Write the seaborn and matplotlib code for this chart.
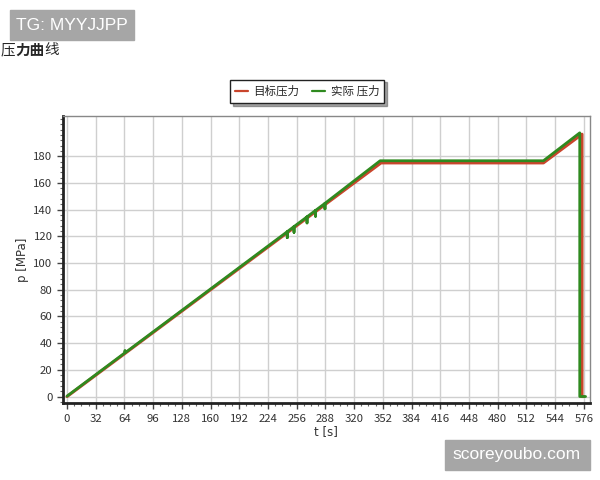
import matplotlib
matplotlib.use("Agg")
import matplotlib.pyplot as plt
import seaborn as sns
import pandas as pd
import numpy as np
from matplotlib.ticker import MultipleLocator

sns.set_theme(style="white")
plt.rcParams['font.family'] = ['Noto Sans CJK SC', 'DejaVu Sans']

# ---- data ----
target_t = [0, 350, 531, 574, 574, 576]
target_p = [0, 175, 175, 196.5, 0, 0]

actual_t = [0, 64, 64.6, 65.2, 245.5, 245.5, 245.5, 253, 253, 253,
            267.5, 267.5, 267.5, 277, 277, 277, 287.5, 287.5, 287.5,
            349, 531, 571.5, 571.5, 578]
actual_p = [0.3, 32.5, 34.5, 33, 123.5, 119, 123.5, 127.3, 123, 127.3,
            134.6, 130, 134.6, 139.4, 135, 139.4, 144.7, 140.5, 144.7,
            176.6, 176.6, 197.5, 0, 0]

x_ticks = list(range(0, 577, 32))
y_ticks = list(range(0, 181, 20))
legend_labels = ["目标压力", "实际 压力"]
title_parts = ["压", "力曲", "线"]

red = "#c9452c"
green = "#2f8a1f"

fig = plt.figure(figsize=(6, 4.8), dpi=100)
ax = fig.add_axes([0.105, 0.160, 0.878, 0.598])

df_t = pd.DataFrame({"t": target_t, "p": target_p})
df_a = pd.DataFrame({"t": actual_t, "p": actual_p})
sns.lineplot(data=df_t, x="t", y="p", sort=False, estimator=None, color=red,
             lw=2.2, ax=ax, label=legend_labels[0])
sns.lineplot(data=df_a, x="t", y="p", sort=False, estimator=None, color=green,
             lw=2.0, ax=ax, label=legend_labels[1])

ax.set_xlim(-4.5, 582.7)
ax.set_ylim(-5, 210)
ax.set_xticks(x_ticks)
ax.set_yticks(y_ticks)
ax.xaxis.set_minor_locator(MultipleLocator(8))
ax.yaxis.set_minor_locator(MultipleLocator(4))
ax.grid(True, which="major", color="#cfcfcf", lw=1)
ax.tick_params(axis="both", which="major", direction="out", length=4, width=1,
               color="#444444", labelsize=8.2, labelcolor="#333333",
               bottom=True, left=True)
ax.tick_params(axis="both", which="minor", direction="out", length=2, width=0.8,
               color="#666666", bottom=True, left=True)
for s in ["top", "right"]:
    ax.spines[s].set_color("#888888")
    ax.spines[s].set_linewidth(1)
for s in ["left", "bottom"]:
    ax.spines[s].set_color("#222222")
    ax.spines[s].set_linewidth(2)

ax.set_xlabel("t [s]", fontsize=8.5, color="#333333", labelpad=1, family="DejaVu Sans")
ax.set_ylabel("p [MPa]", fontsize=8.5, color="#333333", labelpad=3, family="DejaVu Sans")

leg = ax.legend(loc="center", bbox_to_anchor=(0.512, 0.81), bbox_transform=fig.transFigure,
                ncol=2, frameon=True, fancybox=False, shadow=True, fontsize=8.3,
                handlelength=1.1, columnspacing=1.1, borderpad=0.45, handletextpad=0.5)
leg.get_frame().set_edgecolor("#222222")
leg.get_frame().set_linewidth(1)
for ln in leg.get_lines():
    ln.set_linewidth(1.6)

# title with partial bold
W, H = 600, 480
fig.text(1 / W, 1 - 50 / H, title_parts[0], fontsize=10.5, va="center", ha="left")
fig.text(15.5 / W, 1 - 50 / H, title_parts[1], fontsize=10.5, va="center", ha="left",
         fontweight="bold")
fig.text(44 / W, 1 - 50 / H, title_parts[2], fontsize=10.5, va="center", ha="left")

# watermark boxes
fig.patches.append(plt.Rectangle((10 / W, 1 - 40 / H), 124 / W, 30 / H,
                                 transform=fig.transFigure, color="#a6a6a6", zorder=5))
fig.text(72 / W, 1 - 25 / H, "TG: MYYJJPP", fontsize=12.5, color="white",
         ha="center", va="center", family="Liberation Sans", zorder=6)
fig.patches.append(plt.Rectangle((445 / W, 1 - 470 / H), 145 / W, 30 / H,
                                 transform=fig.transFigure, color="#a6a6a6", zorder=5))
fig.text(517 / W, 1 - 455 / H, "scoreyoubo.com", fontsize=12.5, color="white",
         ha="center", va="center", family="Liberation Sans", zorder=6)

fig.savefig("out.png", dpi=100)
